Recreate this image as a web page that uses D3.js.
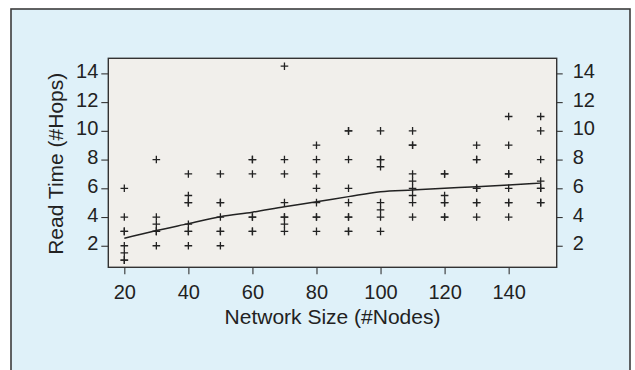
<!DOCTYPE html>
<html>
<head>
<meta charset="utf-8">
<script src="https://cdn.jsdelivr.net/npm/d3@7"></script>
<style>
  body { margin: 0; background: #fff; }
  svg text { font-family: "Liberation Sans", Arial, sans-serif; fill: #222; }
</style>
</head>
<body>
<div id="chart"></div>
<script>
// network size groups and the read times measured at each
const sizes = [20, 30, 40, 50, 60, 70, 80, 90, 100, 110, 120, 130, 140, 150];
const readTimes = [
  [6, 4, 3, 3, 2, 1.5, 1, 1],
  [8, 4, 3.5, 3, 3, 2],
  [7, 5.5, 5, 5, 3.5, 3, 3, 2],
  [7, 5, 5, 4, 3, 3, 2],
  [8, 8, 7, 4, 4, 3, 3],
  [14.5, 8, 7, 5, 4, 4, 3.5, 3],
  [9, 8, 7, 6, 5, 4, 4, 3],
  [10, 10, 8, 6, 5, 4, 4, 3, 3],
  [10, 8, 8, 7.5, 5, 4.5, 4, 3],
  [10, 9, 9, 7, 6.5, 6, 5.5, 5, 4],
  [7, 7, 5.5, 5, 5, 4, 4],
  [9, 8, 8, 6, 6, 5, 5, 4],
  [11, 9, 7, 7, 6, 5, 5, 4],
  [11, 10, 8, 6.5, 6, 6, 5, 5]
];
// smoothed trend
const trend = [2.52, 3.06, 3.54, 4.02, 4.34, 4.72, 5.06, 5.42, 5.76, 5.88, 6.0, 6.11, 6.23, 6.36];
const yTicks = [2, 4, 6, 8, 10, 12, 14];
const xTicks = [20, 40, 60, 80, 100, 120, 140];

const W = 635, H = 370;
const margin = {top: 58.3, left: 108.3};
const width = 448.4, height = 209;

const svg = d3.select('#chart').append('svg')
  .attr('width', W)
  .attr('height', H);

// light blue panel
svg.append('rect')
  .attr('x', 11).attr('y', 9)
  .attr('width', 619).attr('height', 420)
  .attr('fill', '#dff1f9')
  .attr('stroke', '#3c3c3c')
  .attr('stroke-width', 1.6);

const g = svg.append('g')
  .attr('transform', `translate(${margin.left},${margin.top})`);

g.append('rect')
  .attr('width', width).attr('height', height)
  .attr('fill', '#f1efeb')
  .attr('stroke', '#333')
  .attr('stroke-width', 1.4);

const x = d3.scaleLinear().domain([15, 155]).range([0, width]);
const y = d3.scaleLinear().domain([0.5, 15.05]).range([height, 0]);

const styleAxis = sel => {
  sel.select('.domain').remove();
  sel.selectAll('.tick line').attr('stroke', '#333').attr('stroke-width', 1.1);
  sel.selectAll('.tick text').style('font-size', '20px').attr('fill', '#222');
};

g.append('g')
  .attr('transform', `translate(0,${height})`)
  .call(d3.axisBottom(x).tickValues(xTicks).tickSize(7).tickPadding(11))
  .call(styleAxis);

g.append('g')
  .call(d3.axisLeft(y).tickValues(yTicks).tickSize(7).tickPadding(3))
  .call(styleAxis)
  .selectAll('.tick text').attr('dy', '0.2em');

g.append('g')
  .attr('transform', `translate(${width},0)`)
  .call(d3.axisRight(y).tickValues(yTicks).tickSize(6).tickPadding(10))
  .call(styleAxis)
  .selectAll('.tick text').attr('dy', '0.2em');

// plus markers
const points = sizes.flatMap((s, i) => readTimes[i].map(v => ({s, v})));
const arm = 3.8;
g.selectAll('.pt')
  .data(points)
  .enter().append('path')
  .attr('class', 'pt')
  .attr('d', d => {
    const cx = x(d.s), cy = y(d.v);
    return `M${cx - arm},${cy}H${cx + arm}M${cx},${cy - arm}V${cy + arm}`;
  })
  .attr('stroke', '#222')
  .attr('stroke-width', 1.3)
  .attr('fill', 'none');

const line = d3.line()
  .x((d, i) => x(sizes[i]))
  .y(d => y(d))
  .curve(d3.curveMonotoneX);

g.append('path')
  .datum(trend)
  .attr('d', line)
  .attr('fill', 'none')
  .attr('stroke', '#222')
  .attr('stroke-width', 1.5);

g.append('text')
  .attr('x', width / 2)
  .attr('y', 265.5)
  .attr('text-anchor', 'middle')
  .style('font-size', '21px')
  .text('Network Size (#Nodes)');

g.append('text')
  .attr('transform', `translate(${62.5 - margin.left},${height / 2 + 1}) rotate(-90)`)
  .attr('text-anchor', 'middle')
  .style('font-size', '21px')
  .text('Read Time (#Hops)');
</script>
</body>
</html>
